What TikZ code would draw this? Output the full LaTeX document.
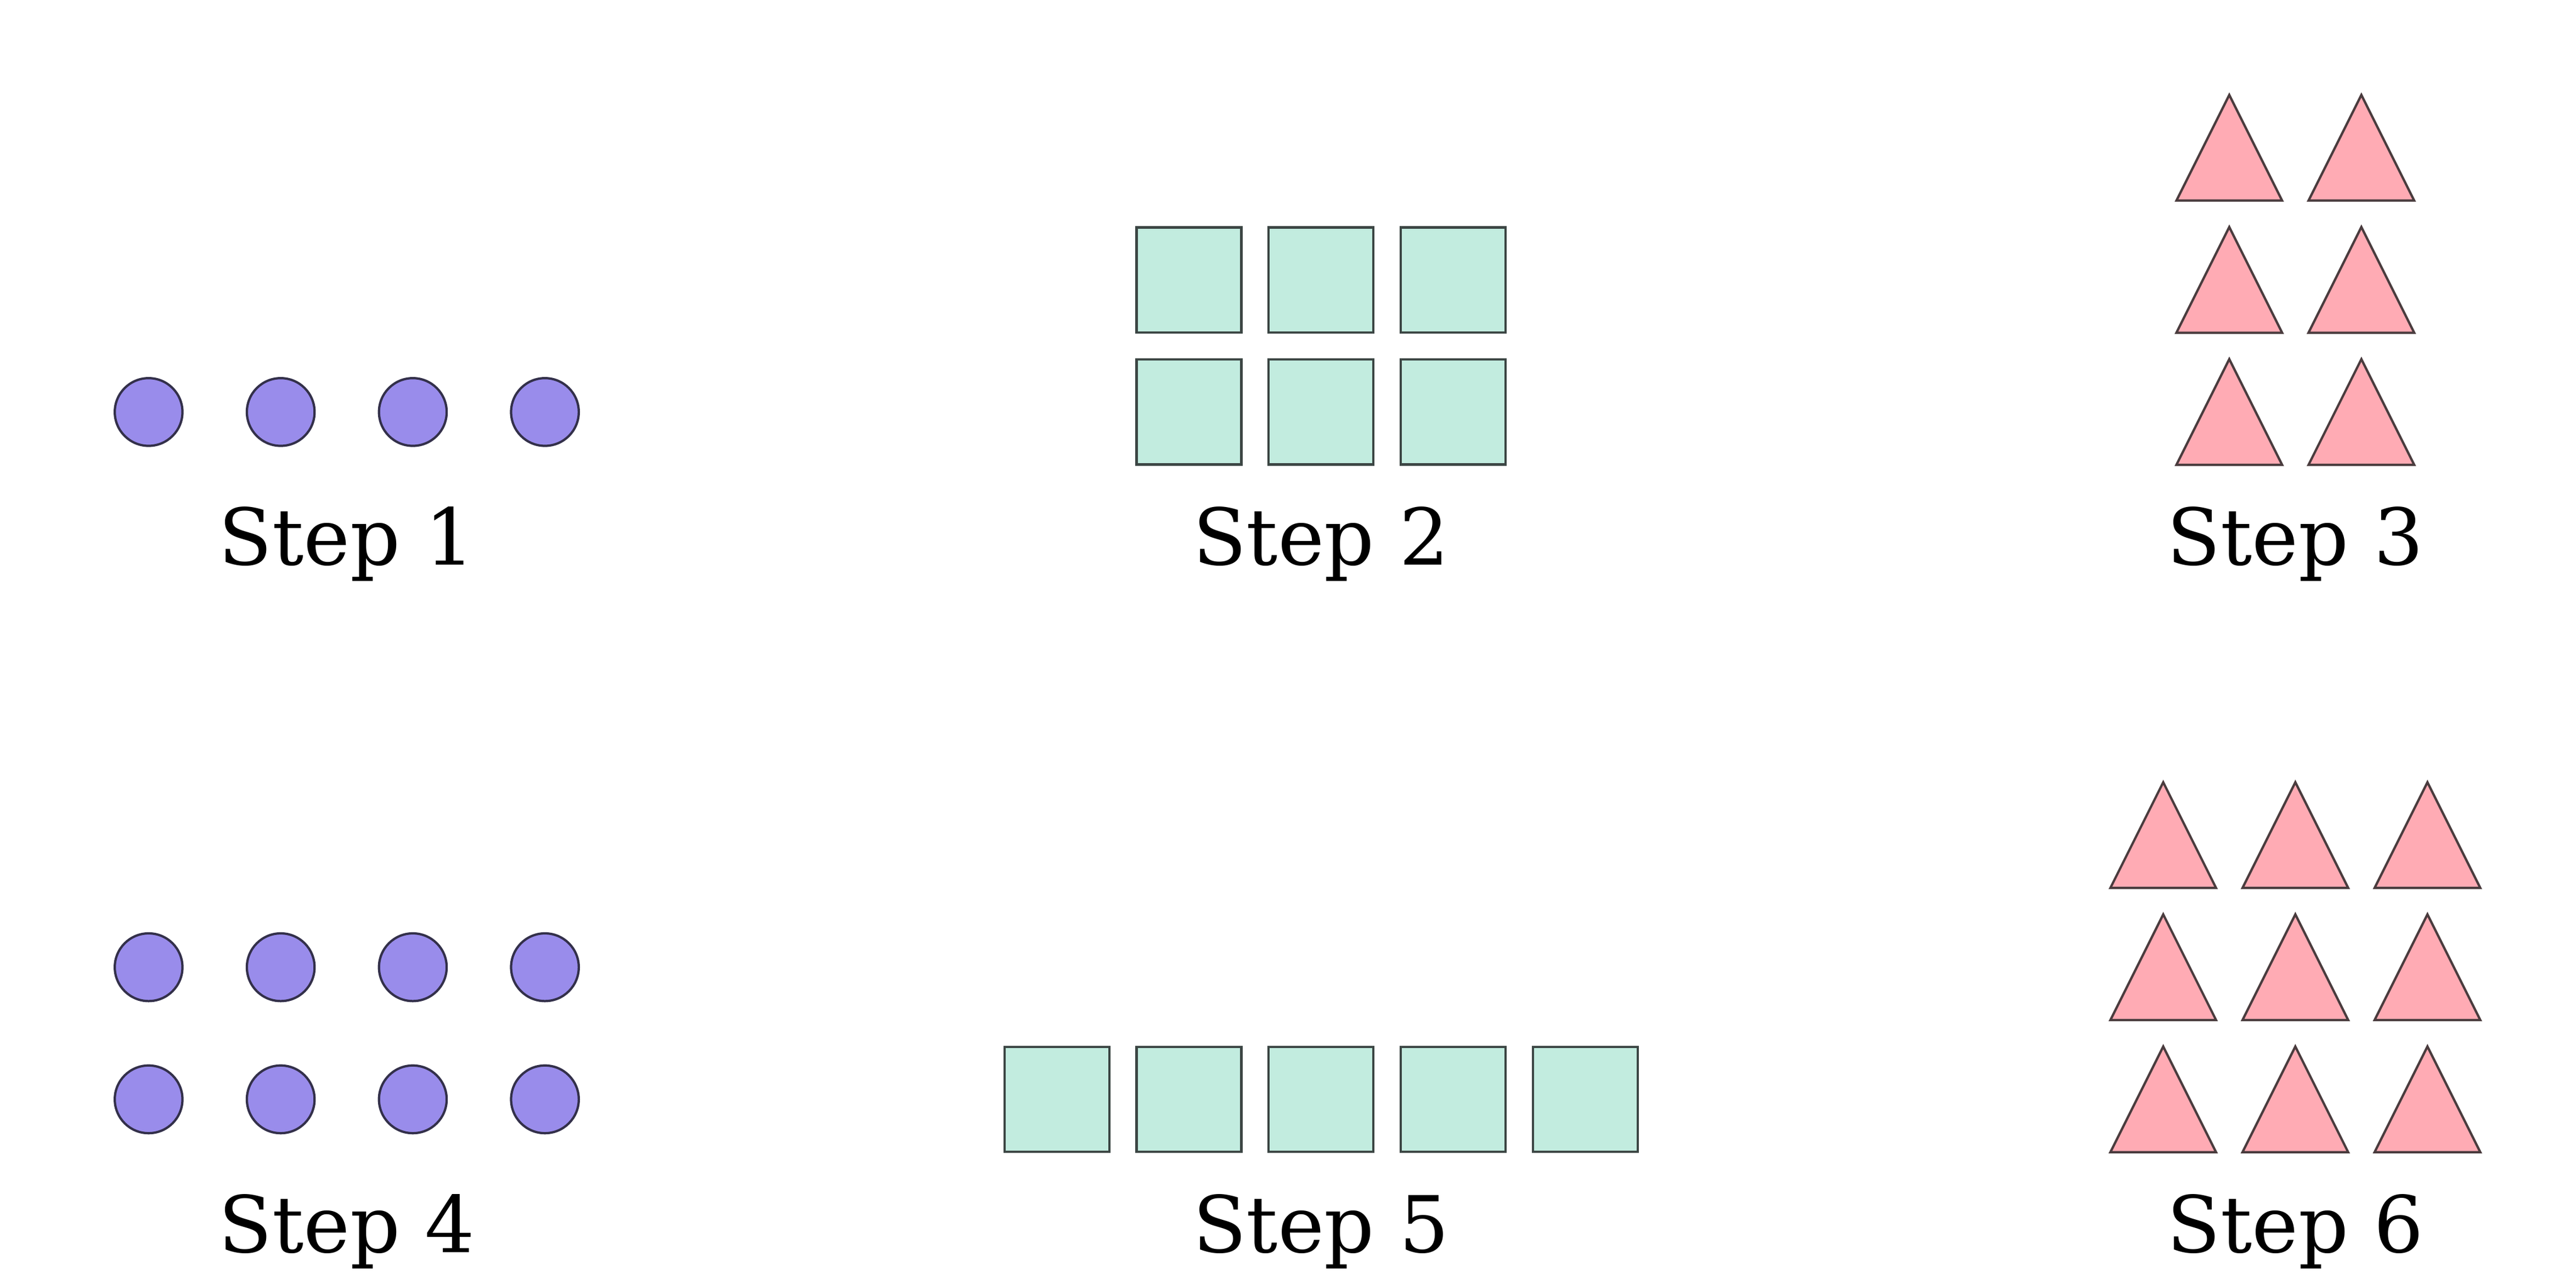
\documentclass[tikz,border=0pt]{standalone}
\usepackage{fontspec}
\setmainfont{DejaVu Serif}
\usepackage{tikz}

\definecolor{dotfill}{HTML}{998CEB}
\definecolor{dotline}{HTML}{33304A}
\definecolor{tilefill}{HTML}{C2ECDF}
\definecolor{tileline}{HTML}{3C4644}
\definecolor{trifill}{HTML}{FFABB4}
\definecolor{triline}{HTML}{4A3C3E}

\begin{document}
\begin{tikzpicture}[x=1cm,y=1cm]
\tikzstyle{dot}=[circle, draw=dotline, fill=dotfill, line width=0.4pt, minimum size=0.41cm, inner sep=0pt]
\tikzstyle{tile}=[rectangle, draw=tileline, fill=tilefill, line width=0.4pt, minimum size=0.635cm, inner sep=0pt]
\tikzstyle{tri}=[draw=triline, fill=trifill, line width=0.4pt]
\tikzstyle{steplabel}=[anchor=base, inner sep=0pt, font=\fontsize{13.5}{16}\selectfont]
\useasboundingbox (0,0) rectangle (15.6,7.775);

% Step 1: one row of dots
\foreach \i in {0,...,3}
  \node[dot] (one\i) at (0.9+0.8*\i,5.28) {};
\node[steplabel] (lab1) at (2.1,4.353) {Step 1};

% Step 2: two rows of tiles
\foreach \i in {0,1,2}
  \foreach \j in {0,1}
    \node[tile] (two\i\j) at (7.2+0.8*\i,5.28+0.8*\j) {};
\node[steplabel] (lab2) at (8.0,4.353) {Step 2};

% Step 3: three rows of triangles
\foreach \i in {0,1}
  \foreach \j in {0,1,2}
    \draw[tri] (13.5+0.8*\i-0.32,5.28+0.8*\j-0.32) -- ++(0.32,0.64) -- ++(0.32,-0.64) -- cycle;
\node[steplabel] (lab3) at (13.9,4.353) {Step 3};

% Step 4: two rows of dots
\foreach \i in {0,...,3}
  \foreach \j in {0,1}
    \node[dot] (four\i\j) at (0.9+0.8*\i,1.118+0.8*\j) {};
\node[steplabel] (lab4) at (2.1,0.191) {Step 4};

% Step 5: one row of tiles
\foreach \i in {0,...,4}
  \node[tile] (five\i) at (6.4+0.8*\i,1.118) {};
\node[steplabel] (lab5) at (8.0,0.191) {Step 5};

% Step 6: three rows of triangles
\foreach \i in {0,1,2}
  \foreach \j in {0,1,2}
    \draw[tri] (13.1+0.8*\i-0.32,1.118+0.8*\j-0.32) -- ++(0.32,0.64) -- ++(0.32,-0.64) -- cycle;
\node[steplabel] (lab6) at (13.9,0.191) {Step 6};
\end{tikzpicture}
\end{document}
